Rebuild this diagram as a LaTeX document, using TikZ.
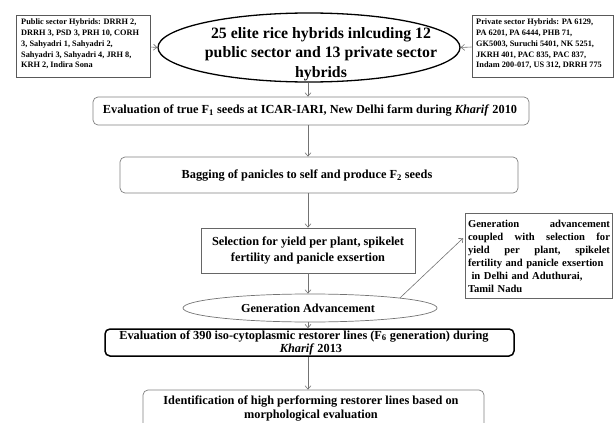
\documentclass[tikz,border=0pt]{standalone}
\usepackage{fontspec}
\setmainfont{Liberation Serif}
\usetikzlibrary{shapes.geometric,arrows.meta,calc}
\begin{document}
\begin{tikzpicture}[x=1pt,y=-1pt,
  conn/.style={draw=black!55, line width=0.6pt, -{Straight Barb[length=3.5pt,width=6pt]}},
  shapebox/.style={draw=black!50, line width=0.7pt, inner sep=0pt, rectangle},
  roundbox/.style={shapebox, rounded corners=5pt},
  sidebox/.style={draw=black!65, line width=0.7pt, inner sep=0pt, rectangle},
  lbl/.style={inner sep=0pt, align=center, font=\bfseries\fontsize{12.3}{14}\selectfont},
  small/.style={inner sep=0pt, align=left, font=\bfseries\fontsize{8.3}{10.7}\selectfont}
]
\useasboundingbox (0,0) rectangle (614,423);

% main ellipse
\node[ellipse, draw=black, line width=1.3pt, minimum width=302pt, minimum height=69pt, inner sep=0pt] (e1) at (309,47.5) {};
\node[inner sep=0pt, align=center, font=\bfseries\fontsize{15.8}{19.5}\selectfont] (e1t) at (321,54) {25 elite rice hybrids inlcuding 12\\public sector and 13 private sector\\hybrids};

% side boxes
\node[sidebox, minimum width=134pt, minimum height=62pt] (pub) at (83,46) {};
\node[small, anchor=north west] (pubt) at (21,19) {Public sector Hybrids: DRRH 2,\\DRRH 3, PSD 3, PRH 10, CORH\\3, Sahyadri 1, Sahyadri 2,\\Sahyadri 3, Sahyadri 4, JRH 8,\\KRH 2, Indira Sona};
\node[sidebox, minimum width=141pt, minimum height=62pt] (priv) at (542.5,46) {};
\node[small, anchor=north west] (privt) at (476,19) {Private sector Hybrids: PA 6129,\\PA 6201, PA 6444, PHB 71,\\GK5003, Suruchi 5401, NK 5251,\\JKRH 401, PAC 835, PAC 837,\\Indam 200-017, US 312, DRRH 775};

% box 1
\node[roundbox, minimum width=436pt, minimum height=28pt] (b1) at (311,111) {};
\node[lbl] (b1t) at (310,111) {Evaluation of true F\textsubscript{1} seeds at ICAR-IARI, New Delhi farm during \textit{Kharif} 2010};

% box 2
\node[roundbox, minimum width=398pt, minimum height=36pt] (b2) at (319,175) {};
\node[lbl] (b2t) at (307,176) {Bagging of panicles to self and produce F\textsubscript{2} seeds};

% box 3
\node[shapebox, draw=black!60, minimum width=214pt, minimum height=45pt] (b3) at (308,250.5) {};
\node[lbl, font=\bfseries\fontsize{12.3}{16}\selectfont] (b3t) at (308,250) {Selection for yield per plant, spikelet\\fertility and panicle exsertion};

% ellipse 2
\node[ellipse, draw=black!55, line width=0.7pt, minimum width=254pt, minimum height=28pt, inner sep=0pt] (e2) at (310,308) {};
\node[lbl, font=\bfseries\fontsize{12.2}{14}\selectfont] (e2t) at (308,308) {Generation Advancement};

% right box
\node[shapebox, draw=black!60, minimum width=147pt, minimum height=85pt] (rb) at (538.5,255.5) {};
\node[inner sep=0pt, text width=142pt, align=left, font=\bfseries\fontsize{10.6}{13}\selectfont] (rbt) at (539,256) {Generation\hfill advancement\\coupled\hfill with\hfill selection\hfill for\\yield\hfill per\hfill plant,\hfill spikelet\\fertility and panicle exsertion\\\ in Delhi and Aduthurai,\\Tamil Nadu};

% box 4
\node[rectangle, rounded corners=5pt, draw=black, line width=1.5pt, minimum width=409pt, minimum height=27pt, inner sep=0pt] (b4) at (309.5,342.5) {};
\node[lbl, font=\bfseries\fontsize{12.3}{13}\selectfont] (b4t) at (304,342.5) {Evaluation of 390 iso-cytoplasmic restorer lines (F\textsubscript{6} generation) during\\\hspace*{14pt}\textit{Kharif} 2013};

% box 5
\node[roundbox, minimum width=341pt, minimum height=40pt] (b5) at (313.5,410) {};
\node[lbl] (b5t) at (311,409) {Identification of high performing restorer lines based on\\morphological evaluation};

% connectors
\draw[conn] (pub.east |- 0,47) -- (e1.west);
\draw[conn] (priv.west |- 0,47) -- (e1.east);
\draw[conn] (e1.south -| 308,0) -- (b1.north -| 308,0);
\draw[conn] (b1.south -| 308,0) -- (b2.north -| 308,0);
\draw[conn] (b2.south -| 308,0) -- (b3.north -| 308,0);
\draw[conn] (b3.south -| 308,0) -- (e2.north -| 308,0);
\draw[conn] (e2.south -| 308,0) -- (b4.north -| 308,0);
\draw[conn] (b4.south -| 308,0) -- (b5.north -| 308,0);
\coordinate (rbin) at ($(rb.north west)!0.28!(rb.south west)$);
\draw[conn, shorten >=2pt] (e2.north east) -- (rbin);
\end{tikzpicture}
\end{document}
